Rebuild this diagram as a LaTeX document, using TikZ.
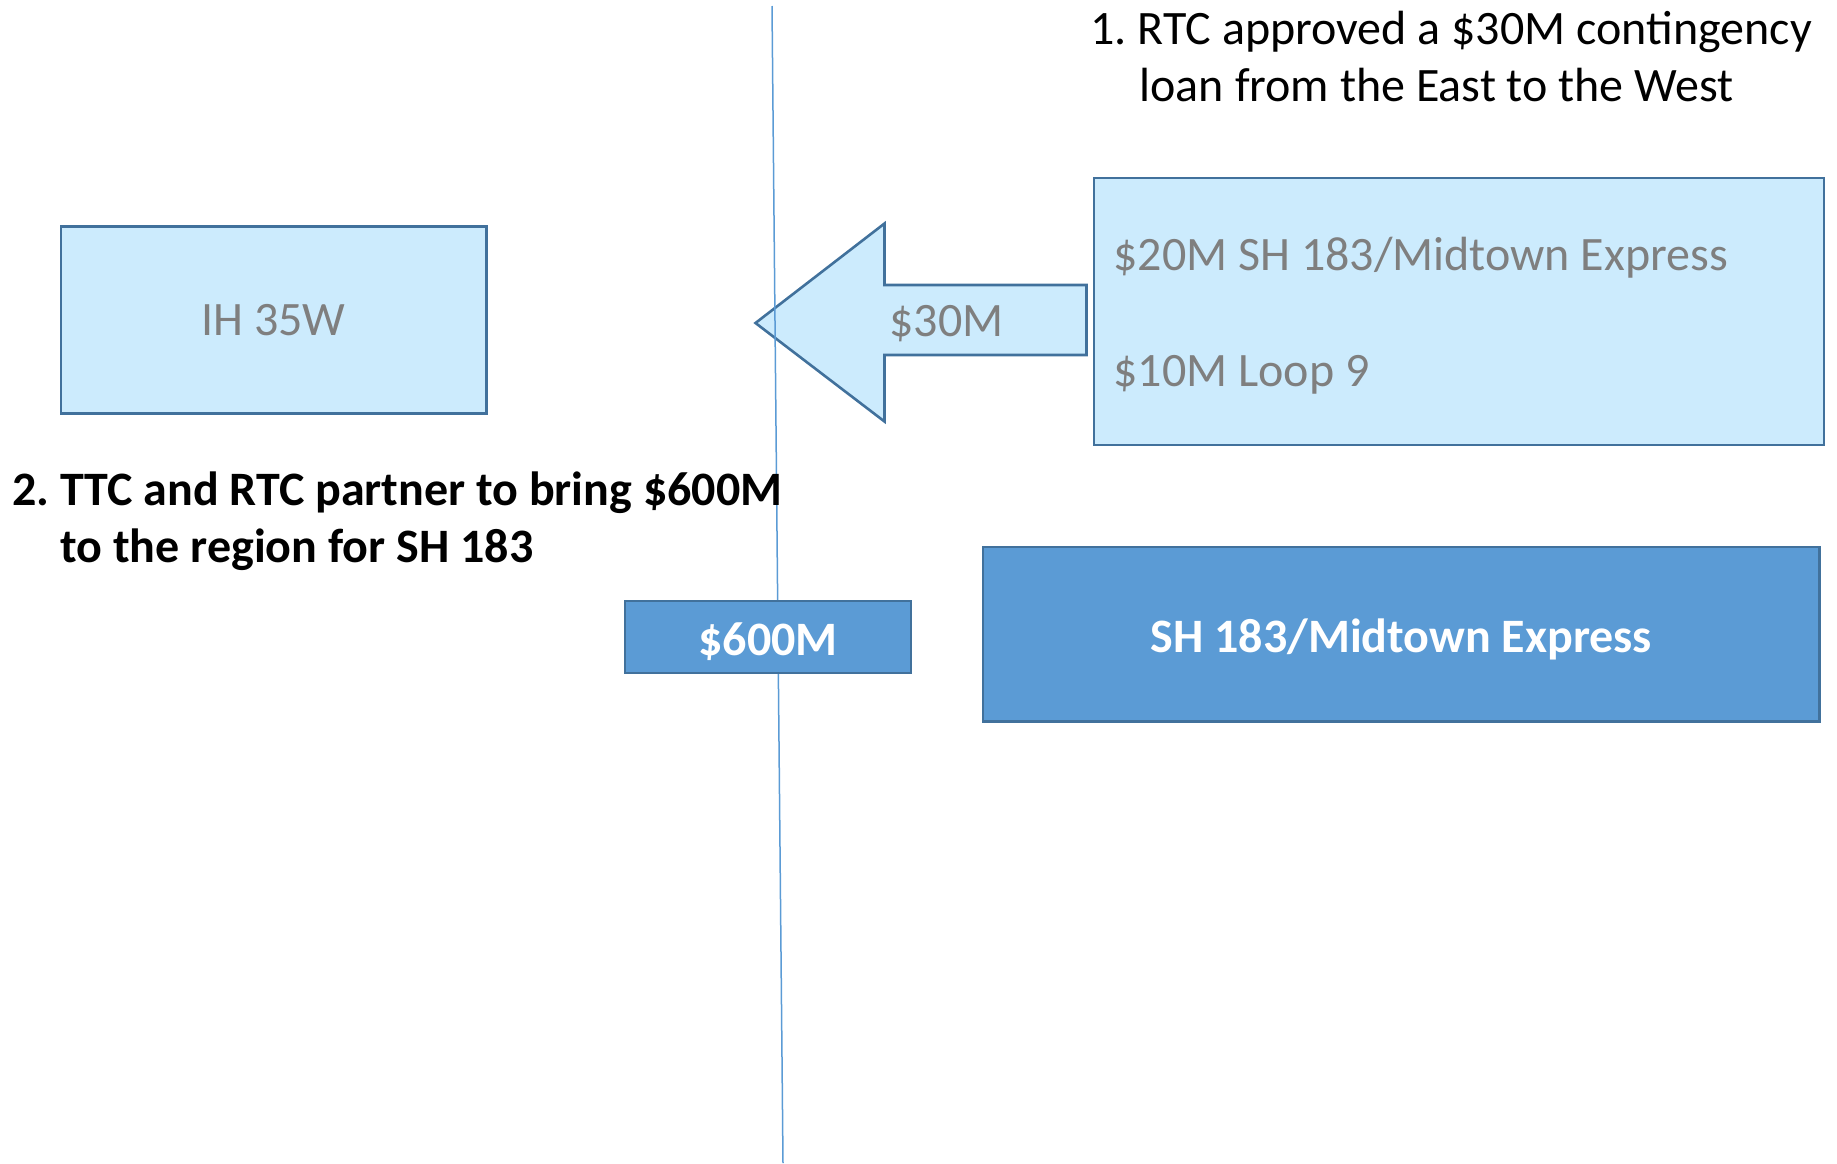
\documentclass[tikz,border=0pt]{standalone}
\usepackage{fontspec}
\setmainfont{Carlito}
\definecolor{lightfill}{HTML}{CCEBFD}
\definecolor{edgeblue}{HTML}{41719C}
\definecolor{darkfill}{HTML}{5B9BD5}
\definecolor{graytext}{HTML}{7F7F7F}
\newcommand{\bigfont}{\fontsize{24}{29}\selectfont}
\tikzset{
  lightbox/.style={draw=edgeblue, fill=lightfill, line width=1.3pt, inner sep=0pt, outer sep=0pt},
  darkbox/.style={draw=edgeblue, fill=darkfill, line width=1.3pt, inner sep=0pt, outer sep=0pt, text=white, font=\bfseries\bigfont, text height=19.2pt, text depth=1pt},
  graylabel/.style={inner sep=0pt, anchor=base west, text=graytext, font=\bigfont},
  titletext/.style={inner sep=0pt, anchor=base west, text=black, font=\bigfont},
  divider/.style={draw=darkfill, line width=0.75pt},
}
\begin{document}
\begin{tikzpicture}[x=0.5pt,y=-0.5pt]
\useasboundingbox (0,0) rectangle (1837,1163);
% west box
\node[lightbox, minimum width=212.7pt, minimum height=93.7pt, text=graytext, font=\bigfont, text height=15.5pt, text depth=0.5pt] (ih) at (273.5,320) {IH 35W};
% east box
\node[lightbox, minimum width=365pt, minimum height=133.5pt] (east) at (1459,311.5) {};
\node[graylabel] (e1) at (1113,270) {\$20M SH 183/Midtown Express};
\node[graylabel] (e2) at (1113,386) {\$10M Loop 9};
% loan arrow
\draw[lightbox] (755.5,323) -- (884.5,223.5) -- (884.5,285) -- (1086.5,285) -- (1086.5,355) -- (884.5,355) -- (884.5,421.5) -- cycle;
\node[graylabel] (loan) at (889,336) {\$30M};
% divider
\coordinate (vtop) at (772,6);
\coordinate (vbot) at (783,1163);
\draw[divider] (vtop) -- (vbot);
% dark boxes
\node[darkbox, minimum width=143pt, minimum height=36pt] (six) at (768,637) {\$600M};
\node[darkbox, minimum width=418.25pt, minimum height=87.35pt] (sh) at (1401.25,634.4) {SH 183/Midtown Express};
% titles
\node[titletext] (t1a) at (1090,44) {1.\ RTC approved a \$30M contingency};
\node[titletext] (t1b) at (1092,101) {\phantom{1.\ }loan from the East to the West};
\node[titletext, font=\bfseries\bigfont] (t2a) at (12,505) {2.\ TTC and RTC partner to bring \$600M};
\node[titletext, font=\bfseries\bigfont] (t2b) at (12,562) {\phantom{2.\ }to the region for SH 183};
\end{tikzpicture}
\end{document}
